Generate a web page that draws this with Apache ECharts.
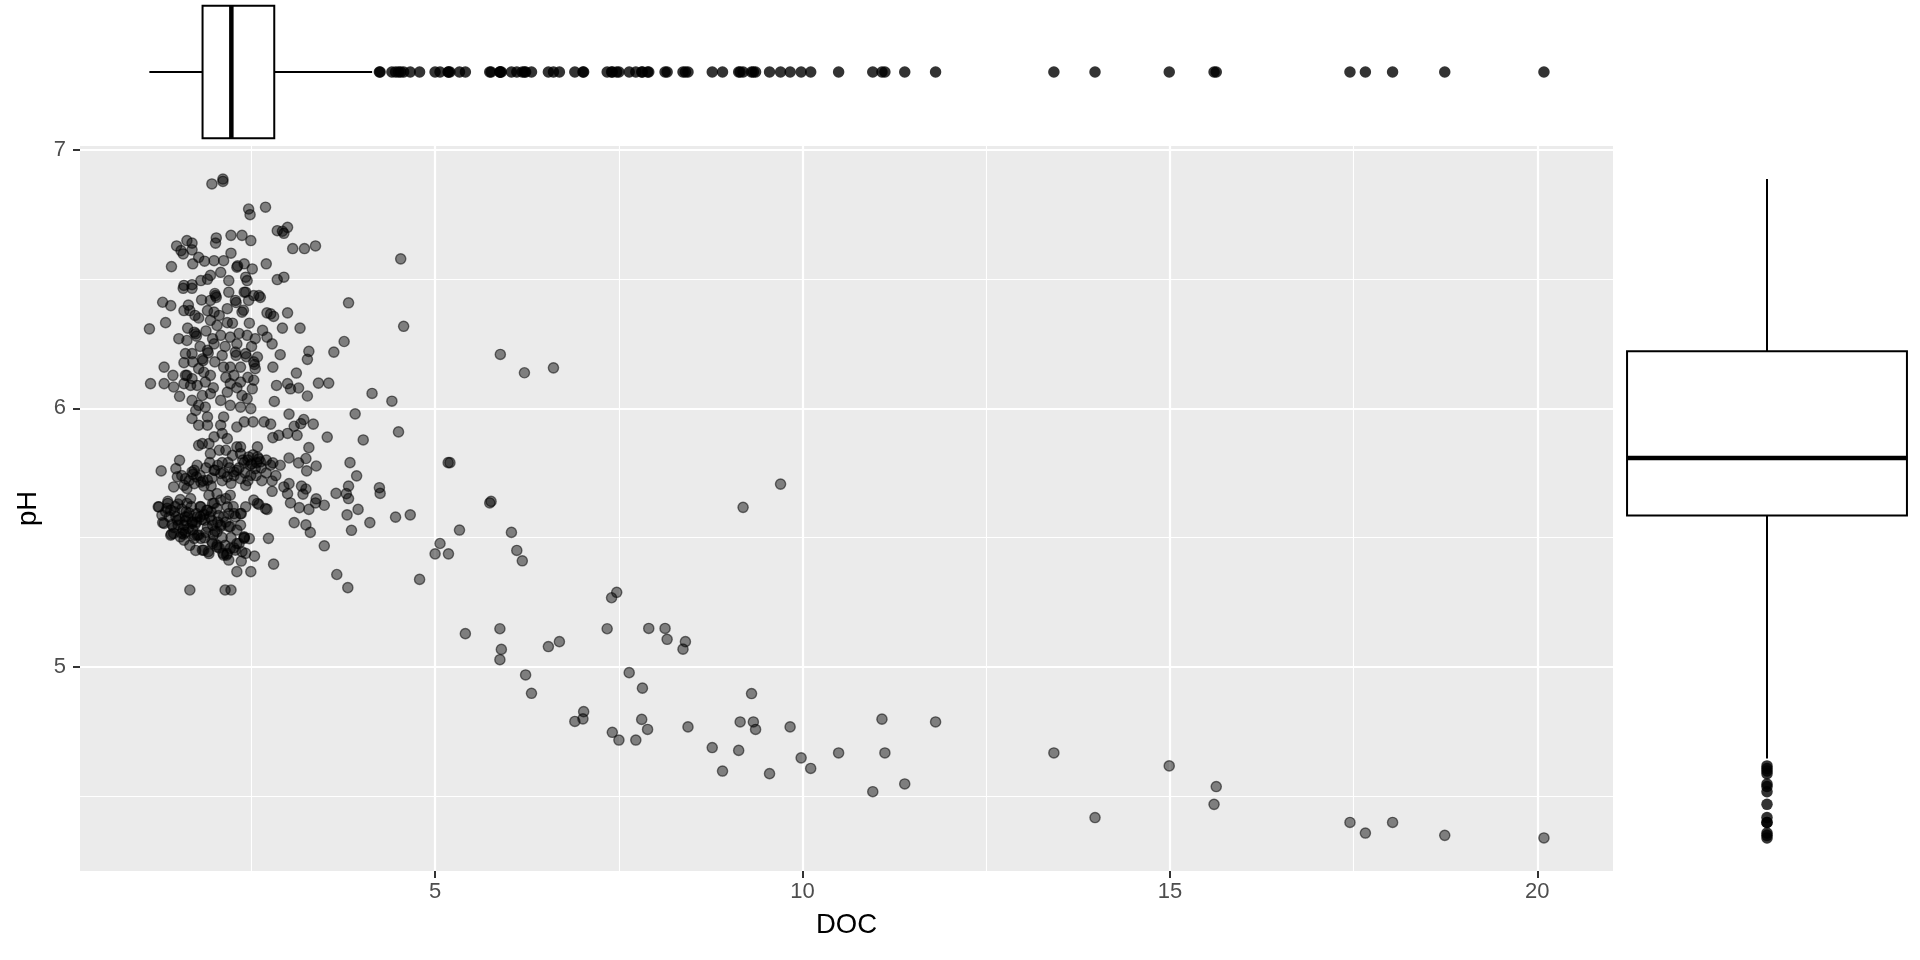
<!DOCTYPE html>
<html><head><meta charset="utf-8">
<script src="https://cdn.jsdelivr.net/npm/echarts@6/dist/echarts.min.js"></script>
<style>html,body{margin:0;padding:0;background:#fff;} #chart{width:1920px;height:960px;}</style>
</head><body><div id="chart"></div>
<script>
// [DOC, pH] pairs
const sparsePoints = [
[20.09,4.337],[18.74,4.347],[18.03,4.397],[17.66,4.356],[17.45,4.397],
[15.63,4.536],[15.60,4.467],[14.99,4.616],[13.98,4.416],[13.42,4.666],
[11.81,4.786],[11.39,4.546],[11.12,4.666],[11.08,4.797],[10.955,4.516],[10.49,4.666],[10.11,4.606],[9.98,4.647],[9.83,4.767],[9.55,4.586],[9.36,4.757],[9.33,4.786],[9.305,4.896],[9.15,4.786],[9.13,4.676],[8.91,4.596],[8.77,4.687],[8.44,4.767],
[9.70,5.707],[9.19,5.617],
[8.405,5.097],[8.372,5.068],[8.156,5.106],[8.128,5.148],[7.906,5.148],[7.82,4.917],[7.81,4.796],[7.89,4.757],
[7.73,4.716],[7.50,4.716],[7.41,4.746],[7.64,4.977],[7.34,5.147],[7.40,5.267],[7.47,5.288],
[7.02,4.826],[7.01,4.798],[6.90,4.788],[6.69,5.097],[6.54,5.078],[6.31,4.897],[6.23,4.968],[5.88,5.027],[5.90,5.067],[5.88,5.147],[5.41,5.128],
[6.185,5.41],[6.11,5.45],[6.037,5.52],[5.742,5.634],[5.76,5.64],[5.33,5.529],[5.065,5.477],[4.998,5.437],[5.18,5.437],[4.787,5.338],
[5.176,5.79],[5.20,5.79],[5.886,6.209],[6.214,6.138],[6.609,6.157],[4.53,6.579],[4.57,6.318],[3.82,6.409],
[4.14,6.058],[4.41,6.028],[4.50,5.909],[3.91,5.979],[4.02,5.878],[3.53,5.889],[3.84,5.79],[3.93,5.739],[3.82,5.699],[4.24,5.693],[4.25,5.671],[3.65,5.671],[3.82,5.651],[3.95,5.609],[3.80,5.588],[4.46,5.579],[4.66,5.588],[3.86,5.528],[4.11,5.558],[3.66,5.357],[3.81,5.306],[3.49,5.468],[3.08,5.558],[3.24,5.549],[3.30,5.52],[3.37,5.634],[3.49,5.625],[3.03,5.634],[2.80,5.397],[2.73,5.497],[2.54,5.428],[2.49,5.368],[2.30,5.368],[2.22,5.297],[2.14,5.297],[1.66,5.297]
];
const clusterUpper = [
[1.96,6.869],[2.11,6.888],[2.11,6.879],[2.46,6.772],[2.48,6.750],[2.69,6.779],
[2.85,6.688],[2.92,6.686],[2.99,6.701],[2.94,6.678],
[3.06,6.619],[3.22,6.619],[3.37,6.629],
[2.70,6.560],[2.85,6.499],[2.94,6.508],
[1.41,6.549],[1.48,6.629],[1.62,6.650],[1.69,6.640],[1.54,6.611],[1.57,6.598],[1.69,6.614],[1.70,6.560],[1.78,6.585],[1.86,6.570],[1.99,6.572],[2.01,6.640],[2.02,6.660],[2.12,6.572],[2.22,6.670],[2.37,6.670],[2.49,6.650],[2.22,6.601],[2.40,6.560],[2.51,6.540],[2.30,6.547],[2.31,6.552],[2.08,6.527],[1.94,6.515],[1.90,6.500],[1.81,6.495],[1.58,6.476],[1.69,6.479],[2.19,6.495],[2.42,6.508],[2.44,6.495]
];
const clusterMiddle = [
[1.29,6.411],[1.40,6.398],[1.33,6.332],[1.11,6.308],[1.51,6.270],[1.31,6.160],[1.125,6.096],[1.31,6.096],[1.43,6.128],[1.44,6.083],[1.52,6.047],
[1.57,6.465],[1.69,6.465],[1.58,6.379],[1.66,6.379],[1.78,6.350],[1.63,6.311],[1.74,6.289],[1.62,6.263],[1.60,6.212],[1.69,6.212],[1.58,6.177],[1.83,6.192],[1.78,6.154],[1.62,6.128],[1.69,6.115],[1.58,6.096],[1.76,6.089],[1.83,6.050],[1.69,6.031],[1.78,6.012],[1.87,6.005],[1.74,5.992],
[2.01,6.437],[1.94,6.418],[1.99,6.373],[1.90,6.379],[1.94,6.341],[2.03,6.321],[2.17,6.332],[2.08,6.283],[1.99,6.250],[1.90,6.225],[2.10,6.205],[2.12,6.160],[1.94,6.128],[1.94,6.057],[2.08,6.031],[2.17,6.063],[2.21,6.012],[2.35,6.005],[2.49,5.999],
[2.19,6.450],[2.28,6.418],[2.17,6.386],[2.37,6.373],[2.21,6.276],[2.30,6.250],[2.44,6.283],[2.55,6.270],[2.42,6.212],[2.28,6.218],[2.21,6.160],[2.35,6.160],[2.26,6.128],[2.35,6.102],[2.21,6.096],[2.53,6.180],[2.58,6.199],[2.55,6.154],[2.53,6.109],[2.51,6.076],[2.37,6.050],[2.44,6.038],[2.40,6.450],[2.46,6.418],[2.53,6.437],[2.60,6.437],
[2.71,6.370],[2.76,6.366],[2.80,6.356],[2.99,6.370],[2.92,6.311],[3.16,6.311],[2.65,6.302],[2.71,6.276],[2.78,6.250],[2.89,6.208],[2.79,6.160],[3.11,6.137],[3.28,6.221],[3.26,6.190],[2.84,6.089],[2.99,6.096],[3.03,6.076],[3.14,6.079],[3.26,6.048],[2.81,6.027],[3.41,6.098],[3.55,6.098],[3.62,6.218],[3.76,6.259],
[2.02,6.430],[2.00,6.445],[2.29,6.410],[2.42,6.450],[2.62,6.430],[1.75,6.280],[1.72,6.295],[1.84,6.185],[1.91,6.215],[2.29,6.205],[2.43,6.200],[2.54,6.170],[1.67,6.089],[1.60,6.128],[1.87,6.102]
];
const clusterLower = [
[3.01,5.978],[3.21,5.957],[3.34,5.939],[3.17,5.941],[3.08,5.931],[2.99,5.903],[2.87,5.896],[2.79,5.887],[3.12,5.896],[2.52,5.948],[2.40,5.948],[2.67,5.948],[2.76,5.939],[3.28,5.848],[3.24,5.806],[3.14,5.789],[3.01,5.808],[3.38,5.777],[3.25,5.758],[2.89,5.780],[2.79,5.789],[2.78,5.719],[2.78,5.679],[3.01,5.709],[2.94,5.696],[2.99,5.670],[3.24,5.688],[3.20,5.668],[3.79,5.670],[3.15,5.616],[3.28,5.609],[2.71,5.609],[2.60,5.628],[3.18,5.699],[3.38,5.650],
[1.27,5.758],[1.52,5.799],[1.47,5.767],[1.44,5.696],[1.49,5.735],[1.60,5.728],[1.69,5.754],[1.76,5.780],[1.58,5.702],[1.72,5.709],[1.81,5.715],[1.90,5.722],[1.99,5.761],[2.08,5.748],[2.17,5.735],[2.26,5.754],[2.35,5.728],[2.42,5.702],[2.49,5.741],[2.55,5.767],[2.62,5.793],[2.58,5.812],[2.46,5.812],[2.35,5.825],[2.24,5.818],[2.15,5.838],[2.06,5.838],[1.94,5.825],[1.83,5.864],[1.78,5.857],[1.92,5.864],[1.99,5.890],[2.10,5.903],[2.17,5.883],[2.08,5.935],[2.12,5.967],[1.90,5.935],[1.78,5.935],[1.69,5.961],[1.90,5.967],[2.30,5.928],[2.35,5.851],[2.30,5.851],[2.58,5.851],
[1.24,5.619],[1.35,5.613],[1.28,5.587],[1.31,5.555],[1.40,5.606],[1.53,5.647],[1.62,5.632],[1.67,5.651],[1.60,5.580],[1.49,5.567],[1.58,5.548],[1.69,5.555],[1.76,5.580],[1.81,5.619],[1.90,5.606],[2.03,5.613],[2.12,5.580],[1.96,5.567],[2.08,5.548],[2.03,5.522],[2.21,5.542],[2.35,5.548],[2.26,5.593],[2.35,5.593],[2.40,5.503],[2.17,5.619],[2.21,5.664],[2.15,5.651],[2.03,5.670],[1.92,5.664],[1.99,5.632],[1.44,5.516],[1.58,5.513],[1.76,5.509],
[1.55,5.740],[1.65,5.720],[1.75,5.735],[1.85,5.700],[1.62,5.690],[1.70,5.745],[2.45,5.800],[2.52,5.820],[2.60,5.805],[2.40,5.790],[2.50,5.785],[1.55,5.610],[1.65,5.595],[1.75,5.560],[1.85,5.590],[1.95,5.600],[2.05,5.585],[2.15,5.560],[1.60,5.565],[1.70,5.530],[1.90,5.540],[2.00,5.525],[1.45,5.600],[1.80,5.620],[2.25,5.620],[2.00,5.760],[2.20,5.770],[2.30,5.760],[2.10,5.720],[1.95,5.700]
];
const clusterBottom = [
[1.40,5.509],[1.58,5.490],[1.72,5.497],[1.85,5.451],[1.92,5.438],[2.03,5.471],[1.96,5.484],[2.17,5.438],[2.21,5.458],[2.30,5.477],[2.37,5.445],[2.40,5.497],[2.12,5.432],[1.81,5.497],[1.53,5.503],[2.36,5.409],
[1.23,5.619],[1.36,5.632],[1.29,5.558],[1.44,5.539],[1.50,5.548],[1.41,5.513],[1.55,5.516],[1.64,5.535],[1.69,5.561],[1.80,5.580],[1.89,5.606],[1.97,5.632],[2.08,5.645],[1.61,5.600],[1.47,5.580],[1.72,5.509],[1.86,5.499],[1.97,5.477],[1.91,5.445],[1.83,5.451],[2.03,5.464],[2.11,5.439],[2.16,5.432],[2.19,5.413],[2.28,5.451],[2.33,5.477],[2.42,5.439],[2.47,5.496],[2.40,5.500],[2.30,5.529],[2.19,5.542],[2.08,5.542],[1.97,5.548],[1.86,5.567],[1.75,5.593],[2.19,5.593],[2.28,5.580],[2.36,5.593],[2.42,5.619],[2.53,5.645],[2.58,5.632],[2.69,5.612]
];
// extra overlapping points in the darkest (most crowded) parts of the cluster
const clusterDense = [
[1.72,5.76],[1.80,5.74],[1.88,5.77],[1.96,5.73],[2.04,5.78],[2.12,5.75],[2.18,5.79],[2.26,5.74],[2.33,5.77],[2.41,5.75],[2.48,5.78],[2.56,5.74],[2.63,5.77],[2.70,5.75],[2.76,5.78],[2.83,5.74],[2.64,5.72],[2.70,5.80],[2.57,5.79],[2.45,5.72],[2.38,5.80],[2.22,5.71],[2.10,5.79],[1.93,5.79],[1.84,5.72],
[1.33,5.60],[1.38,5.58],[1.46,5.62],[1.52,5.57],[1.57,5.53],[1.63,5.58],[1.68,5.62],[1.73,5.55],[1.78,5.51],[1.82,5.57],[1.88,5.52],[1.93,5.58],[1.98,5.51],[2.04,5.56],[2.10,5.50],[2.14,5.47],[2.22,5.50],[2.26,5.46],[1.66,5.47],[1.74,5.45],[1.50,5.63],[1.42,5.55],[1.36,5.64],[1.60,5.52],[2.06,5.46],
[1.64,6.40],[1.73,6.36],[1.82,6.42],[1.88,6.30],[1.97,6.27],[2.06,6.36],[2.14,6.24],[2.24,6.33],[2.33,6.29],[2.39,6.38],[2.47,6.33],[2.50,6.24],[1.70,6.18],[1.80,6.24],[2.00,6.18],[2.15,6.12],[2.30,6.08],[1.98,6.08],[1.85,6.14],[2.45,6.12]
];

// boxplot statistics: [lower whisker, Q1, median, Q3, upper whisker]
const docBoxStats = [1.109, 1.833, 2.225, 2.809, 4.141];
const phBoxStats  = [4.645, 5.585, 5.808, 6.221, 6.888];

// tick values
const docTicks = [5, 10, 15, 20];
const docMinorTicks = [2.5, 7.5, 12.5, 17.5];
const phTicks = [5, 6, 7];
const phMinorTicks = [4.5, 5.5, 6.5];
const docRange = [0.165, 21.03];
const phRange = [4.209, 7.016];
const docCategory = ['DOC'];
const phCategory = ['pH'];

const allPoints = [].concat(sparsePoints, clusterUpper, clusterMiddle, clusterLower, clusterBottom, clusterDense);
const docOutliers = allPoints.filter(p => p[0] > docBoxStats[4]).map(p => [p[0], 0]);
const phOutliers = allPoints.filter(p => p[1] < phBoxStats[0]).map(p => [0, p[1]]);

const FONT = "'Liberation Sans', Arial, Helvetica, sans-serif";

const gridLineData = [].concat(
  docMinorTicks.map(v => ({xAxis: v, lineStyle: {width: 1.1}})),
  phMinorTicks.map(v => ({yAxis: v, lineStyle: {width: 1.1}})),
  docTicks.map(v => ({xAxis: v, lineStyle: {width: 2.2}})),
  phTicks.map(v => ({yAxis: v, lineStyle: {width: 2.2}}))
);

function renderHBox(params, api) {
  const cat = api.value(0);
  const s = [1,2,3,4,5].map(i => api.value(i));
  const x = s.map(v => api.coord([v, cat])[0]);
  const y = api.coord([s[2], cat])[1];
  const h = api.size([0, 1])[1] * 0.92;
  const ls = {stroke: '#000', lineWidth: 2};
  return {type: 'group', children: [
    {type: 'line', shape: {x1: x[0], y1: y, x2: x[1], y2: y}, style: ls},
    {type: 'line', shape: {x1: x[3], y1: y, x2: x[4], y2: y}, style: ls},
    {type: 'rect', shape: {x: x[1], y: y - h / 2, width: x[3] - x[1], height: h}, style: {fill: '#fff', stroke: '#000', lineWidth: 2}},
    {type: 'line', shape: {x1: x[2], y1: y - h / 2, x2: x[2], y2: y + h / 2}, style: {stroke: '#000', lineWidth: 4.5}}
  ]};
}
function renderVBox(params, api) {
  const cat = api.value(0);
  const s = [1,2,3,4,5].map(i => api.value(i));
  const y = s.map(v => api.coord([cat, v])[1]);
  const x = api.coord([cat, s[2]])[0];
  const w = api.size([1, 0])[0] * 0.933;
  const ls = {stroke: '#000', lineWidth: 2};
  return {type: 'group', children: [
    {type: 'line', shape: {x1: x, y1: y[0], x2: x, y2: y[1]}, style: ls},
    {type: 'line', shape: {x1: x, y1: y[3], x2: x, y2: y[4]}, style: ls},
    {type: 'rect', shape: {x: x - w / 2, y: y[3], width: w, height: y[1] - y[3]}, style: {fill: '#fff', stroke: '#000', lineWidth: 2}},
    {type: 'line', shape: {x1: x - w / 2, y1: y[2], x2: x + w / 2, y2: y[2]}, style: {stroke: '#000', lineWidth: 4.5}}
  ]};
}

const chart = echarts.init(document.getElementById('chart'), null, {renderer: 'canvas'});
chart.setOption({
  animation: false,
  backgroundColor: '#ffffff',
  textStyle: {fontFamily: FONT},
  grid: [
    {left: 80, top: 146, width: 1533, height: 725, show: true, backgroundColor: '#EBEBEB', borderWidth: 0},
    {left: 80, top: 0, width: 1533, height: 144},
    {left: 1617, top: 146, width: 300, height: 725}
  ],
  xAxis: [
    {type: 'value', gridIndex: 0, min: docRange[0], max: docRange[1],
     axisLine: {show: false}, splitLine: {show: false}, minorTick: {show: false},
     axisTick: {show: true, customValues: docTicks, length: 7, lineStyle: {color: '#333333', width: 2}},
     axisLabel: {customValues: docTicks, fontSize: 22, color: '#4D4D4D', fontFamily: FONT, margin: 10},
     name: 'DOC', nameLocation: 'middle', nameGap: 40,
     nameTextStyle: {fontSize: 27.5, color: '#000', fontFamily: FONT}},
    {type: 'value', gridIndex: 1, min: docRange[0], max: docRange[1], show: false},
    {type: 'category', gridIndex: 2, data: phCategory, show: false}
  ],
  yAxis: [
    {type: 'value', gridIndex: 0, min: phRange[0], max: phRange[1],
     axisLine: {show: false}, splitLine: {show: false},
     axisTick: {show: true, customValues: phTicks, length: 7, lineStyle: {color: '#333333', width: 2}},
     axisLabel: {customValues: phTicks, fontSize: 22, color: '#4D4D4D', fontFamily: FONT, margin: 14},
     name: 'pH', nameLocation: 'middle', nameGap: 33,
     nameTextStyle: {fontSize: 27.5, color: '#000', fontFamily: FONT}},
    {type: 'category', gridIndex: 1, data: docCategory, show: false},
    {type: 'value', gridIndex: 2, min: phRange[0], max: phRange[1], show: false}
  ],
  series: [
    {type: 'scatter', xAxisIndex: 0, yAxisIndex: 0, data: [], z: 1, silent: true,
     markLine: {z: 1, silent: true, symbol: ['none', 'none'], label: {show: false},
       lineStyle: {color: '#ffffff', type: 'solid'}, emphasis: {disabled: true}, data: gridLineData}},
    {type: 'scatter', xAxisIndex: 0, yAxisIndex: 0, z: 3, data: allPoints,
     symbol: 'circle', symbolSize: 10.2,
     itemStyle: {color: 'rgba(0,0,0,0.58)', borderColor: 'rgba(0,0,0,0.66)', borderWidth: 1.4},
     emphasis: {disabled: true}},
    {type: 'custom', xAxisIndex: 1, yAxisIndex: 1, data: [[0].concat(docBoxStats)],
     encode: {x: [1, 2, 3, 4, 5], y: 0}, renderItem: renderHBox, z: 2, silent: true},
    {type: 'scatter', xAxisIndex: 1, yAxisIndex: 1, data: docOutliers, z: 3,
     symbol: 'circle', symbolSize: 11.5, itemStyle: {color: '#000'}, emphasis: {disabled: true}},
    {type: 'custom', xAxisIndex: 2, yAxisIndex: 2, data: [[0].concat(phBoxStats)],
     encode: {x: 0, y: [1, 2, 3, 4, 5]}, renderItem: renderVBox, z: 2, silent: true},
    {type: 'scatter', xAxisIndex: 2, yAxisIndex: 2, data: phOutliers, z: 3,
     symbol: 'circle', symbolSize: 11.5, itemStyle: {color: '#000'}, emphasis: {disabled: true}}
  ]
});
</script></body></html>
